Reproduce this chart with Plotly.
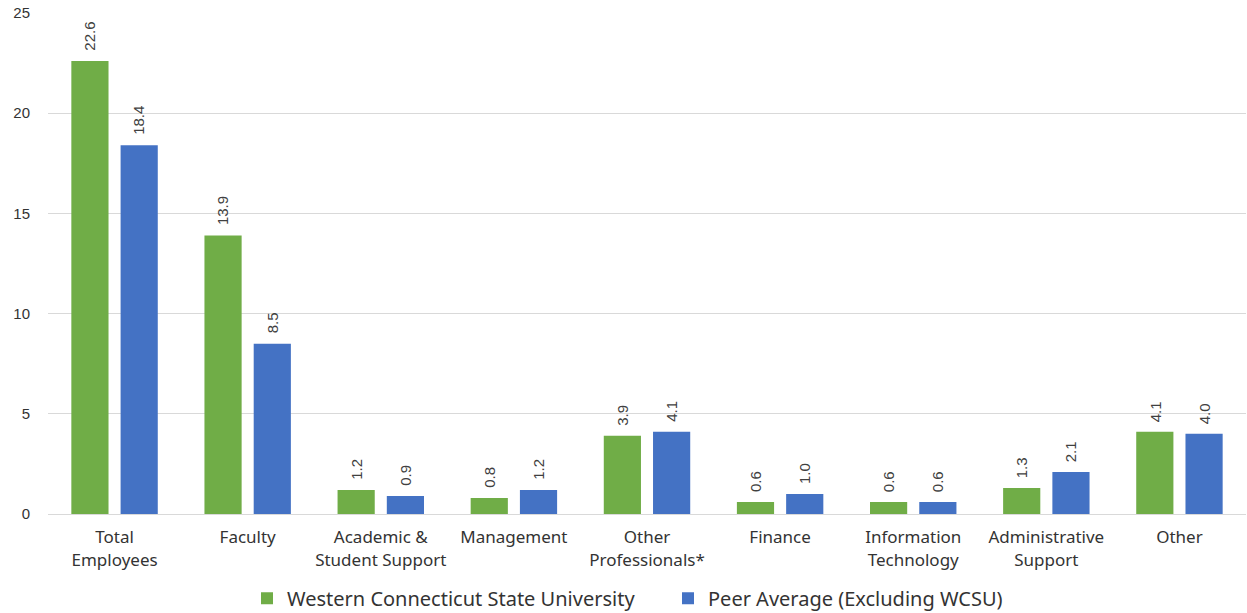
import plotly.graph_objects as go

categories = ["Total<br>Employees", "Faculty", "Academic &<br>Student Support", "Management",
              "Other<br>Professionals*", "Finance", "Information<br>Technology",
              "Administrative<br>Support", "Other"]
wcsu = [22.6, 13.9, 1.2, 0.8, 3.9, 0.6, 0.6, 1.3, 4.1]
peer = [18.4, 8.5, 0.9, 1.2, 4.1, 1.0, 0.6, 2.1, 4.0]
series_names = ["Western Connecticut State University", "Peer Average (Excluding WCSU)"]
colors = ["#70AD47", "#4472C4"]

fig = go.Figure()
for name, vals, col in zip(series_names, [wcsu, peer], colors):
    fig.add_trace(go.Bar(
        x=categories, y=vals, name=name, marker_color=col, marker_line_width=0,
    ))

# data labels as annotations, shifted to each bar of the group
for shift, vals in zip([-24.5, 24.5], [wcsu, peer]):
    for c, v in zip(categories, vals):
        fig.add_annotation(
            x=c, y=v, xref="x", yref="y", text=f"{v:.1f}", showarrow=False,
            textangle=-90, xshift=shift, yshift=8, yanchor="bottom", xanchor="center",
            font=dict(family="Liberation Sans, Arial", size=15, color="#404040"),
        )

fig.update_layout(
    width=1247, height=613,
    margin=dict(l=48, r=1, t=13, b=99),
    paper_bgcolor="white", plot_bgcolor="white",
    barmode="group", bargap=0.26, bargroupgap=0.245,
    showlegend=True,
    legend=dict(orientation="h", x=247 / 1247, xref="container", xanchor="left",
                y=0.024, yref="container", yanchor="middle",
                font=dict(family="Noto Sans", size=20, color="#333333"),
                itemwidth=30, tracegroupgap=0, entrywidth=376),
    xaxis=dict(showgrid=False, showline=True, linecolor="#D9D9D9", linewidth=1,
               ticks="outside", ticklen=8, tickcolor="rgba(0,0,0,0)", automargin=False,
               tickfont=dict(family="Noto Sans", size=17, color="#333333")),
    yaxis=dict(range=[0, 25], dtick=5, showgrid=True, gridcolor="#D9D9D9", gridwidth=1,
               zeroline=False, ticks="", ticklabelstandoff=17, automargin=False,
               tickfont=dict(family="Liberation Sans, Arial", size=15, color="#333333")),
)
fig.write_html("out.html")
